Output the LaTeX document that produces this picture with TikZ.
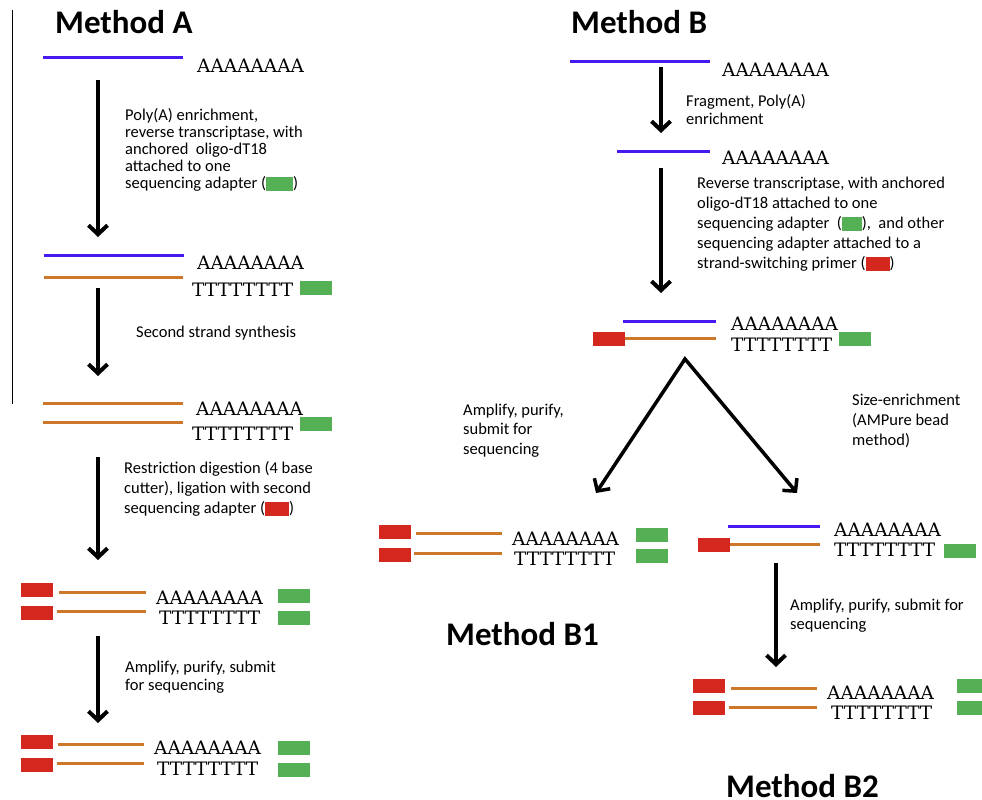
\documentclass[tikz,border=0pt]{standalone}
\usepackage{fontspec}
\setmainfont{Carlito}
\newfontfamily\seqfont{DejaVu Serif}
\usepackage{tikz}
\usetikzlibrary{arrows.meta, positioning, calc}
\definecolor{rnablue}{RGB}{70,25,240}
\definecolor{cdnaorange}{RGB}{204,120,40}
\definecolor{adred}{RGB}{212,40,30}
\definecolor{adgreen}{RGB}{85,175,85}
\def\pA{AAAAAAAA}
\def\pT{TTTTTTTT}
\newcommand{\gbox}[1]{\textcolor{adgreen}{\rule[-3pt]{#1}{14pt}}}
\newcommand{\rbox}[1]{\textcolor{adred}{\rule[-3pt]{#1}{14pt}}}

\begin{document}
\begin{tikzpicture}[x=1pt, y=-1pt,
	title/.style = {anchor=base west, inner sep=0pt, font=\fontsize{33}{36}\selectfont\bfseries},
	note/.style = {anchor=base west, inner sep=0pt, align=left, font=\fontsize{16.5}{19.5}\selectfont},
	seq/.style = {anchor=base west, inner sep=0pt, font=\seqfont\fontsize{18.5}{20}\selectfont},
	rna/.style = {draw=rnablue, line width=3pt},
	cdna/.style = {draw=cdnaorange, line width=3pt},
	adR/.style = {fill=adred, minimum width=32pt, minimum height=14pt, inner sep=0pt},
	adG/.style = {fill=adgreen, minimum width=32pt, minimum height=14pt, inner sep=0pt},
	go/.style = {line width=4pt, -{Straight Barb[length=9pt, width=19pt]}}]
	\useasboundingbox (0,0) rectangle (982,800);
	\clip (0,0) rectangle (982,800);
	\draw[line width=1pt] (12,10) -- (12,404);

	% Method A
	\node[title] (titleA) at (55,34) {Method A};
	\draw[rna] (43,58) -- (183,58);
	\node[seq] (a1A) at (197,72) {\pA};
	\node[note, font=\fontsize{16.5}{17}\selectfont] (noteA1) at (125,188)
		{Poly(A) enrichment,\\reverse transcriptase, with\\anchored~ oligo-dT18\\attached to one\\sequencing adapter (\gbox{27pt})};

	\draw[rna] (44,255) -- (184,255);
	\draw[cdna] (44,277) -- (183,277);
	\node[seq] (a2A) at (197,269) {\pA};
	\node[seq] (a2T) at (192,296) {\pT};
	\node[adG] (a2g) at (316,288) {};
	\node[note] (noteA2) at (136,337) {Second strand synthesis};

	\draw[cdna] (43,403) -- (183,403);
	\draw[cdna] (43,422) -- (183,422);
	\node[seq] (a3A) at (196,415) {\pA};
	\node[seq] (a3T) at (192,440) {\pT};
	\node[adG] (a3g) at (316,424) {};
	\node[note, font=\fontsize{16.5}{20}\selectfont] (noteA3) at (124,513)
		{Restriction digestion (4 base\\cutter), ligation with second\\sequencing adapter (\rbox{24pt})};

	\node[adR] (a4r1) at (37,590) {};
	\node[adR] (a4r2) at (37,613) {};
	\draw[cdna] (59,592) -- (146,592);
	\draw[cdna] (57,611) -- (146,611);
	\node[seq] (a4A) at (156,604) {\pA};
	\node[seq] (a4T) at (159,624) {\pT};
	\node[adG] (a4g1) at (294,596) {};
	\node[adG] (a4g2) at (294,618) {};
	\node[note, font=\fontsize{16.5}{18}\selectfont] (noteA4) at (125,690)
		{Amplify, purify, submit\\for sequencing};

	\node[adR] (a5r1) at (37,742) {};
	\node[adR] (a5r2) at (37,765) {};
	\draw[cdna] (58,744) -- (144,744);
	\draw[cdna] (57,763) -- (144,763);
	\node[seq] (a5A) at (154,754) {\pA};
	\node[seq] (a5T) at (157,775) {\pT};
	\node[adG] (a5g1) at (294,748) {};
	\node[adG] (a5g2) at (294,770) {};

	\coordinate (stepA1s) at (98,80);
	\coordinate (stepA1e) at (98,237);
	\coordinate (stepA2s) at (98,288);
	\coordinate (stepA2e) at (98,376);
	\coordinate (stepA3s) at (98,457);
	\coordinate (stepA3e) at (98,560);
	\coordinate (stepA4s) at (98,636);
	\coordinate (stepA4e) at (98,723);
	\draw[go] (stepA1s) -- (stepA1e);
	\draw[go] (stepA2s) -- (stepA2e);
	\draw[go] (stepA3s) -- (stepA3e);
	\draw[go] (stepA4s) -- (stepA4e);

	% Method B
	\node[title] (titleB) at (571,34) {Method B};
	\draw[rna] (570,62) -- (710,62);
	\node[seq] (b1A) at (722,76) {\pA};
	\node[note, font=\fontsize{16.5}{18}\selectfont] (noteB1) at (686,124)
		{Fragment, Poly(A)\\enrichment};

	\draw[rna] (617,151) -- (710,151);
	\node[seq] (b2A) at (722,164) {\pA};
	\node[note, font=\fontsize{16.5}{20}\selectfont] (noteB2) at (697,268)
		{Reverse transcriptase, with anchored\\oligo-dT18 attached to one\\sequencing adapter~ (\gbox{20pt}),~ and other\\sequencing adapter attached to a\\strand-switching primer (\rbox{24pt})};

	\draw[rna] (623,321) -- (716,321);
	\node[adR] (b3r) at (609,339) {};
	\draw[cdna] (625,338) -- (716,338);
	\node[seq] (b3A) at (731,330) {\pA};
	\node[seq] (b3T) at (731,351) {\pT};
	\node[adG] (b3g) at (855,339) {};

	\node[note] (noteB3l) at (463,454) {Amplify, purify,\\submit for\\sequencing};
	\node[note, font=\fontsize{16.5}{20}\selectfont] (noteB3r) at (852,445)
		{Size-enrichment\\(AMPure bead\\method)};

	% Method B1
	\node[adR] (c1r1) at (395,532) {};
	\node[adR] (c1r2) at (395,555) {};
	\draw[cdna] (416,533) -- (502,533);
	\draw[cdna] (414,553) -- (502,553);
	\node[seq] (c1A) at (512,545) {\pA};
	\node[seq] (c1T) at (514,565) {\pT};
	\node[adG] (c1g1) at (652,535) {};
	\node[adG] (c1g2) at (652,556) {};
	\node[title] (titleB1) at (446,645) {Method B1};

	% Method B2
	\draw[rna] (728,526) -- (820,526);
	\node[adR] (d1r) at (714,545) {};
	\draw[cdna] (730,544) -- (820,544);
	\node[seq] (d1A) at (834,536) {\pA};
	\node[seq] (d1T) at (834,556) {\pT};
	\node[adG] (d1g) at (960,551) {};
	\node[note, font=\fontsize{16.5}{19}\selectfont] (noteB4) at (790,629)
		{Amplify, purify, submit for\\sequencing};

	\node[adR] (d2r1) at (709,686) {};
	\node[adR] (d2r2) at (709,708) {};
	\draw[cdna] (731,688) -- (817,688);
	\draw[cdna] (729,707) -- (817,707);
	\node[seq] (d2A) at (827,699) {\pA};
	\node[seq] (d2T) at (831,719) {\pT};
	\node[adG] (d2g1) at (973,686) {};
	\node[adG] (d2g2) at (973,708) {};
	\node[title] (titleB2) at (726,797) {Method B2};

	\coordinate (stepB1s) at (661,67);
	\coordinate (stepB1e) at (661,133);
	\coordinate (stepB2s) at (661,168);
	\coordinate (stepB2e) at (661,293);
	\coordinate (apex) at (685,359);
	\coordinate (toB1) at (596,493);
	\coordinate (toB2) at (797,493);
	\coordinate (stepB3s) at (776,563);
	\coordinate (stepB3e) at (776,667);
	\draw[go] (stepB1s) -- (stepB1e);
	\draw[go] (stepB2s) -- (stepB2e);
	\draw[line width=3.5pt, line join=miter, {Straight Barb[length=9pt, width=19pt]}-{Straight Barb[length=9pt, width=19pt]}]
		(toB1) -- (apex) -- (toB2);
	\draw[go] (stepB3s) -- (stepB3e);
\end{tikzpicture}
\end{document}
